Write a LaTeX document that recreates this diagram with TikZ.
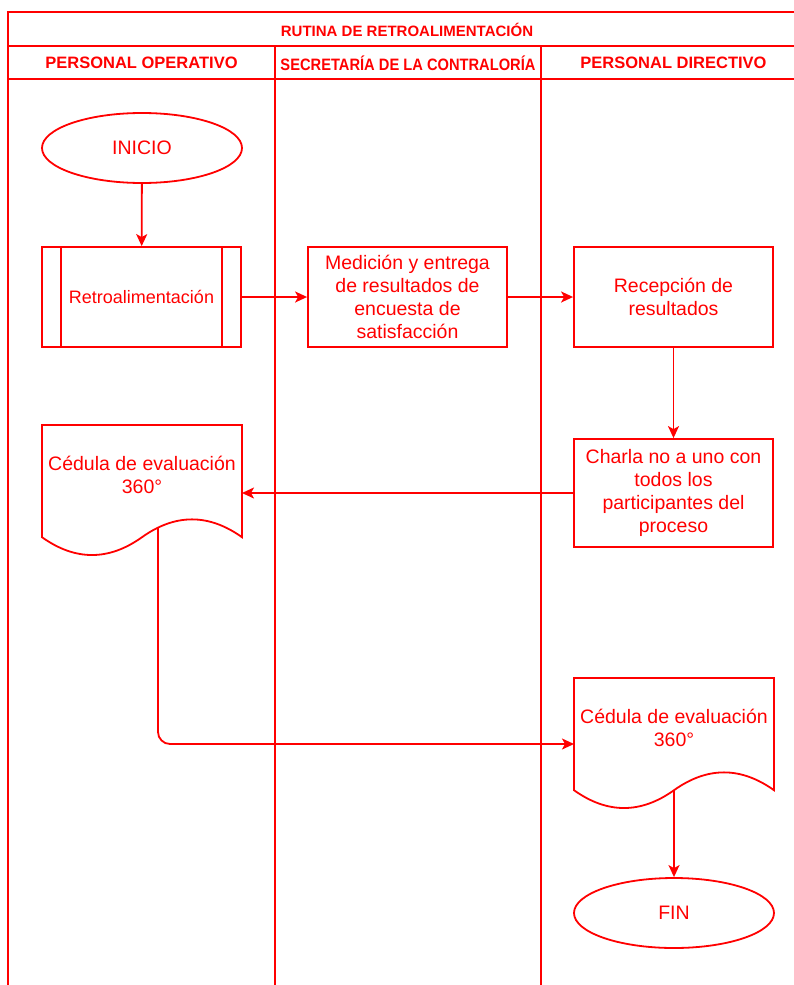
\documentclass[tikz,border=0pt]{standalone}
\usepackage{fontspec}
\setmainfont{Liberation Sans}
\usetikzlibrary{arrows.meta,shapes.geometric}
\definecolor{flowred}{HTML}{FF0000}

% Document symbol outline: flat top, wavy bottom (node must be a docbox)
\newcommand{\docoutline}[1]{%
  \draw[redline] (#1.north west) -- (#1.north east)
    -- ([shift={(0,112.2)}]#1.north east)
    .. controls ([shift={(-33.33,88.44)}]#1.north east) and ([shift={(133.33,88.44)}]#1.north west)
    .. ([shift={(100,112.2)}]#1.north west)
    .. controls ([shift={(66.67,135.96)}]#1.north west) and ([shift={(33.33,135.96)}]#1.north west)
    .. ([shift={(0,112.2)}]#1.north west) -- cycle;}

\begin{document}
\begin{tikzpicture}[x=1pt,y=-1pt,
  redline/.style={draw=flowred,line width=1.8pt},
  titletext/.style={text=flowred,inner sep=0pt,font=\bfseries\fontsize{15}{18}\selectfont},
  lanetext/.style={text=flowred,inner sep=0pt,font=\bfseries\fontsize{16.5}{19}\selectfont},
  body/.style={text=flowred,align=center,inner sep=0pt,font=\fontsize{19.5}{23}\selectfont},
  box/.style={redline,body,rectangle,minimum width=199pt,minimum height=100pt},
  terminal/.style={redline,body,ellipse,minimum width=200pt,minimum height=70pt},
  docbox/.style={rectangle,minimum width=200pt,minimum height=132pt,inner sep=0pt,outer sep=0pt},
  flow/.style={redline,-{Stealth[length=12pt,width=11pt,inset=3pt]}},
]
\useasboundingbox (0,0) rectangle (794,985);
\clip (0,0) rectangle (794,985);

% Swimlane pool
\draw[redline] (8,985) -- (8,12) -- (806,12) -- (806,985);
\draw[redline] (8,46) -- (806,46);
\draw[redline] (8,79) -- (806,79);
\draw[redline] (275,46) -- (275,985);
\draw[redline] (541,46) -- (541,985);
\node[titletext] (title) at (407,29.5) {RUTINA DE RETROALIMENTACIÓN};
\node[lanetext] (lane1) at (141.5,63) {PERSONAL OPERATIVO};
\node[lanetext] (lane2) at (408,63) {\scalebox{0.89}[1]{SECRETARÍA DE LA CONTRALORÍA}};
\node[lanetext] (lane3) at (673.5,63) {PERSONAL DIRECTIVO};

% Steps
\node[terminal] (inicio) at (142,148) {INICIO};
\node[box,font=\fontsize{18}{21}\selectfont] (retro) at (141.5,297) {Retroalimentación};
\draw[redline] ([shift={(20,0)}]retro.north west) -- ([shift={(20,0)}]retro.south west);
\draw[redline] ([shift={(-20,0)}]retro.north east) -- ([shift={(-20,0)}]retro.south east);
\node[box] (medicion) at (407.5,297) {Medición y entrega\\de resultados de\\encuesta de\\satisfacción};
\node[box] (recepcion) at (673.5,297) {Recepción de\\resultados};
\node[box,minimum height=108pt] (charla) at (673.5,493) {Charla no a uno con\\todos los\\participantes del\\proceso};

\node[docbox] (doc1) at (142,491) {};
\docoutline{doc1}
\node[body] (doc1text) at ([shift={(0,50)}]doc1.north) {Cédula de evaluación\\360°};

\node[docbox] (doc2) at (674,744) {};
\docoutline{doc2}
\node[body] (doc2text) at ([shift={(0,50)}]doc2.north) {Cédula de evaluación\\360°};

\node[terminal] (fin) at (674,913) {FIN};

% Connectors
\coordinate (doc1out) at ([shift={(116,103)}]doc1.north west);
\coordinate (doc2out) at ([shift={(100,112.2)}]doc2.north west);
\draw[flow] (inicio) -- (retro);
\draw[flow] (retro) -- (medicion);
\draw[flow] (medicion) -- (recepcion);
\draw[flow] (recepcion) -- (charla);
\draw[flow] (charla.west) -- (charla.west -| doc1.east);
\draw[flow,rounded corners=12pt] (doc1out) |- (doc2.west);
\draw[flow] (doc2out) -- (fin.north -| doc2out);
\end{tikzpicture}
\end{document}
